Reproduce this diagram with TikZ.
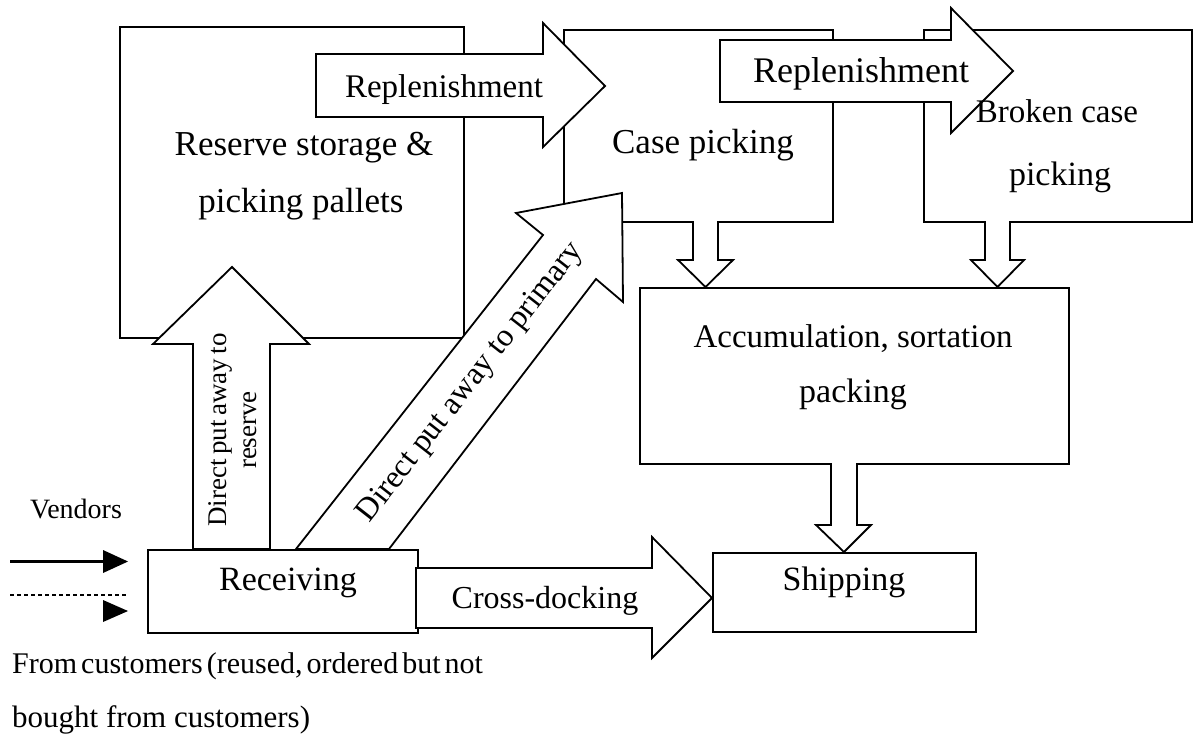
\documentclass[tikz,border=0pt]{standalone}
\usepackage{fontspec}
\setmainfont{Liberation Serif}
\begin{document}
\begin{tikzpicture}[x=1pt,y=-1pt,
  box/.style={draw, line width=1.8pt, fill=white, anchor=north west, inner sep=0pt},
  blk/.style={draw, line width=1.8pt, fill=white, line join=miter},
  lbl/.style={inner sep=0pt, anchor=base, font=\fontsize{#1}{#1}\selectfont},
  lbl/.default=34,
  tri/.style={fill=black}]
\useasboundingbox (0,0) rectangle (1199,745);
% boxes
\node[box, minimum width=344pt, minimum height=311pt] (reserve) at (119,26) {};
\node[box, minimum width=269pt, minimum height=192pt] (case) at (563,29) {};
\node[box, minimum width=268pt, minimum height=192pt] (broken) at (923,29) {};
\node[box, minimum width=429pt, minimum height=176pt] (accum) at (639,287) {};
\node[box, minimum width=270pt, minimum height=83pt] (recv) at (147,549) {};
\node[box, minimum width=263pt, minimum height=79pt] (ship) at (712,552) {};
% block arrows
\draw[blk] (316,54) -- (543,54) -- (543,23) -- (605,86) -- (543,147) -- (543,117) -- (316,117) -- cycle;
\draw[blk] (720,40) -- (951,40) -- (951,8) -- (1013,71) -- (951,133) -- (951,102) -- (720,102) -- cycle;
\draw[blk] (416,568) -- (652,568) -- (652,537) -- (712,598) -- (652,658) -- (652,628) -- (416,628) -- cycle;
\draw[blk] (193,549) -- (193,344) -- (153,344) -- (232,267) -- (309,344) -- (270,344) -- (270,549) -- cycle;
\draw[blk] (296,549) -- (543,235) -- (516,213) -- (622,193) -- (623,302) -- (596,279) -- (389,549) -- cycle;
\draw[blk] (693,221) -- (693,260) -- (678,260) -- (705.5,287) -- (733,260) -- (718,260) -- (718,221);
\draw[blk] (985,221) -- (985,260) -- (971,260) -- (997.5,287) -- (1024,260) -- (1010,260) -- (1010,221);
\draw[blk] (831,463) -- (831,525) -- (816,525) -- (844,552) -- (871,525) -- (857,525) -- (857,463);
% vendor arrows
\coordinate (v1) at (10,561);
\coordinate (v2) at (105,561);
\coordinate (d1) at (10,595);
\coordinate (d2) at (128,595);
\draw[line width=3pt] (v1) -- (v2);
\fill[tri] (103,550) -- (128,561.5) -- (103,573) -- cycle;
\draw[line width=1.2pt, dash pattern=on 4pt off 3pt] (d1) -- (d2);
\fill[tri] (103,600) -- (128,611) -- (103,622) -- cycle;
% labels
\node[lbl=35] (t1) at (304,155) {Reserve storage \&};
\node[lbl=35] (t2) at (301,212) {picking pallets};
\node[lbl=35] (t3) at (703,153) {Case picking};
\node[lbl=33] (t4) at (1057,122) {Broken case};
\node[lbl=34] (t5) at (1060,185) {picking};
\node[lbl=33] (t6) at (853,347) {Accumulation, sortation};
\node[lbl=34] (t7) at (853,402) {packing};
\node[lbl=34] (t8) at (288,590) {Receiving};
\node[lbl=34] (t9) at (844,590) {Shipping};
\node[lbl=32] (t10) at (545,608) {Cross-docking};
\node[lbl=33] (t11) at (444,97) {Replenishment};
\node[lbl=36] (t12) at (861,82) {Replenishment};
\node[lbl=28] (t13) at (76,518) {Vendors};
\node[inner sep=0pt, rotate=90, align=center, font=\fontsize{27}{30}\selectfont] (t14) at (233,430) {Direct\,put\,away\,to\\reserve};
\node[inner sep=0pt, rotate=52, font=\fontsize{32}{36}\selectfont] (t15) at (471,383) {Direct put away to primary};
\node[inner sep=0pt, anchor=base west, font=\fontsize{30}{30}\selectfont] (t16) at (12,673) {\spaceskip=4pt plus 1pt From customers (reused, ordered but not};
\node[inner sep=0pt, anchor=base west, font=\fontsize{31}{31}\selectfont] (t17) at (12,727) {bought from customers)};
\end{tikzpicture}
\end{document}
